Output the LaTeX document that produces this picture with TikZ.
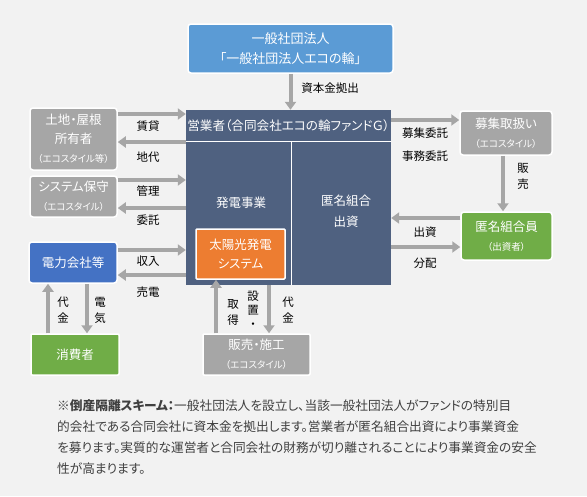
\documentclass[tikz,border=0pt]{standalone}
\usepackage{fontspec}
\setmainfont{Noto Sans CJK JP}[RawFeature=+palt]
\usepackage{tikz}
\usetikzlibrary{arrows.meta,positioning}
\definecolor{bgGray}{HTML}{F2F2F2}
\definecolor{topBlue}{HTML}{5B9BD5}
\definecolor{mainSlate}{HTML}{4F6180}
\definecolor{solarOrange}{HTML}{ED7D31}
\definecolor{boxGray}{HTML}{A6A6A6}
\definecolor{powerBlue}{HTML}{4472C4}
\definecolor{boxGreen}{HTML}{70AD47}
\definecolor{arrGray}{HTML}{A6A6A6}
\definecolor{noteText}{HTML}{404040}
\newcommand{\subtxt}[1]{{\fontsize{9.5}{12}\selectfont #1}}
\begin{document}
\begin{tikzpicture}[x=1pt,y=-1pt,
  box/.style={draw=white, line width=1.5pt, rounded corners=3pt, text=white, align=center,
    inner sep=0pt, font=\fontsize{12.5}{19}\selectfont},
  graybox/.style={box, fill=boxGray},
  greenbox/.style={box, fill=boxGreen},
  arr/.style={draw=arrGray, line width=4pt, -{Triangle[length=8pt,width=11pt]}},
  lbl/.style={font=\fontsize{11.5}{16}\selectfont, align=center, inner sep=0pt},
  wtxt/.style={text=white, align=center, font=\fontsize{12.5}{21}\selectfont}]
\fill[bgGray] (0,0) rectangle (587,496);
% boxes
\node[box, fill=topBlue, minimum width=205pt, minimum height=49pt, font=\fontsize{13}{20}\selectfont] (top) at (290.5,48.5)
  {一般社団法人\\「一般社団法人エコの輪」};
\node[fill=mainSlate, minimum width=205pt, minimum height=175pt, inner sep=0pt] (main) at (288.5,197.5) {};
\draw[white, line width=1pt] (main.west |- 0,141) -- (main.east |- 0,141);
\draw[white, line width=1pt] (291,141) -- (main.south -| 291,0);
\node[wtxt, font=\fontsize{12.6}{21}\selectfont] (head) at (288.5,126) {営業者（合同会社エコの輪ファンドＧ）};
\node[wtxt] (biz) at (241,203) {発電事業};
\node[wtxt] (silent) at (346,211) {匿名組合\\出資};
\node[box, fill=solarOrange, rounded corners=1pt, minimum width=89pt, minimum height=50pt] (solar) at (240.5,254)
  {太陽光発電\\システム};
\node[graybox, minimum width=87pt, minimum height=62pt, font=\fontsize{12.5}{19}\selectfont] (land) at (73.5,139)
  {土地・屋根\\所有者\\\subtxt{（エコスタイル等）}};
\node[graybox, minimum width=87pt, minimum height=41pt] (maint) at (73.5,196.5)
  {システム保守\\\subtxt{（エコスタイル）}};
\node[box, fill=powerBlue, minimum width=88pt, minimum height=41pt] (power) at (73,262.5) {電力会社等};
\node[greenbox, rounded corners=1pt, minimum width=88pt, minimum height=41pt] (consumer) at (75,354.5) {消費者};
\node[graybox, minimum width=92pt, minimum height=44pt] (recruit) at (506,133)
  {募集取扱い\\\subtxt{（エコスタイル）}};
\node[greenbox, minimum width=91pt, minimum height=48pt] (investor) at (506.5,236)
  {匿名組合員\\\subtxt{（出資者）}};
\node[graybox, rounded corners=1pt, minimum width=107pt, minimum height=41pt] (install) at (256.5,354.5)
  {販売・施工\\\subtxt{（エコスタイル）}};
% connectors
\draw[arr] (top.south) -- (top.south |- main.north);
\draw[arr] (land.east |- 0,114) -- (main.west |- 0,114);
\draw[arr] (main.west |- 0,142) -- (land.east |- 0,142);
\draw[arr] (maint.east |- 0,180) -- (main.west |- 0,180);
\draw[arr] (main.west |- 0,208) -- (maint.east |- 0,208);
\draw[arr] (power.east |- 0,250) -- (main.west |- 0,250);
\draw[arr] (main.west |- 0,275) -- (power.east |- 0,275);
\draw[arr] (consumer.north -| 48,0) -- (power.south -| 48,0);
\draw[arr] (power.south -| 87,0) -- (consumer.north -| 87,0);
\draw[arr] (main.east |- 0,120) -- (recruit.west |- 0,120);
\draw[arr] (recruit.south -| 503,0) -- (investor.north -| 503,0);
\draw[arr] (investor.west |- 0,218) -- (main.east |- 0,218);
\draw[arr] (main.east |- 0,247) -- (investor.west |- 0,247);
\draw[arr] (install.north -| 216,0) -- (solar.south -| 216,0);
\draw[arr] (main.south -| 269,0) -- (install.north -| 269,0);
% labels
\node[lbl] (lcap) at (330,88) {資本金拠出};
\node[lbl] (lrent) at (148,126) {賃貸};
\node[lbl] (lfee) at (148,157) {地代};
\node[lbl] (lmgmt) at (148,191) {管理};
\node[lbl] (lcons) at (148,220) {委託};
\node[lbl] (lincome) at (148,261) {収入};
\node[lbl] (lsell) at (148,292) {売電};
\node[lbl] (lpay) at (63,310) {代\\金};
\node[lbl] (lelec) at (100,310) {電\\気};
\node[lbl] (lrec) at (425,133) {募集委託};
\node[lbl] (loffice) at (425,156) {事務委託};
\node[lbl] (lsales) at (523,176) {販\\売};
\node[lbl] (linvest) at (425,232) {出資};
\node[lbl] (ldist) at (425,263) {分配};
\node[lbl] (lacq) at (233,312) {取\\得};
\node[lbl, font=\fontsize{11.5}{14}\selectfont] (lset) at (253,310) {設\\置\\・};
\node[lbl] (lprice) at (288,310) {代\\金};
% note
\node[anchor=north west, align=left, inner sep=0pt, text=noteText,
  font=\fontsize{12.7}{21}\selectfont] (note) at (57,399)
  {※\textbf{倒産隔離スキーム：}一般社団法人を設立し、当該一般社団法人がファンドの特別目\\
   的会社である合同会社に資本金を拠出します。営業者が匿名組合出資により事業資金\\
   を募ります。実質的な運営者と合同会社の財務が切り離されることにより事業資金の安全\\
   性が高まります。};
\end{tikzpicture}
\end{document}
